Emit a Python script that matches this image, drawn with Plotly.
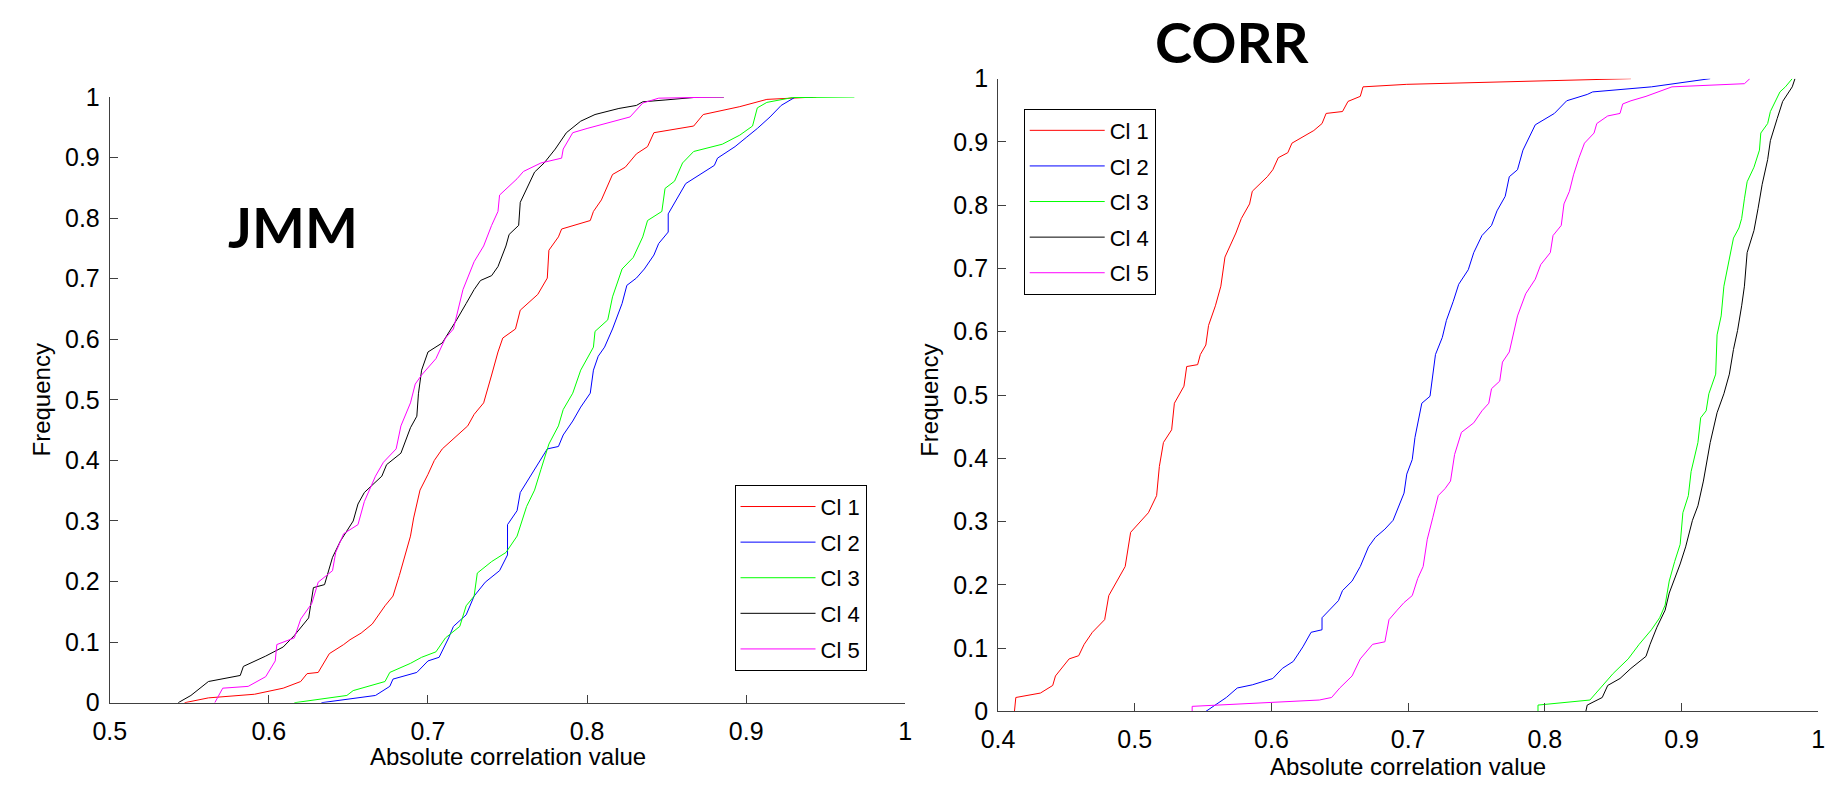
import plotly.graph_objects as go

# ---------------- data ----------------
series_names = ["Cl 1", "Cl 2", "Cl 3", "Cl 4", "Cl 5"]
series_colors = ["#ff0000", "#0000ff", "#00ff00", "#000000", "#ff00ff"]

# JMM panel
jmm_cl1_x = [0.547, 0.562, 0.591, 0.609, 0.620, 0.624, 0.631, 0.638, 0.647, 0.651, 0.658, 0.665, 0.673, 0.678, 0.682, 0.685, 0.689, 0.691, 0.695, 0.700, 0.704, 0.709, 0.716, 0.725, 0.729, 0.735, 0.740, 0.744, 0.747, 0.755, 0.758, 0.764, 0.769, 0.775, 0.776, 0.782, 0.784, 0.802, 0.804, 0.809, 0.813, 0.816, 0.824, 0.831, 0.838, 0.842, 0.867, 0.873, 0.896, 0.913, 0.944]
jmm_cl1_y = [0.000, 0.008, 0.014, 0.024, 0.035, 0.048, 0.050, 0.081, 0.096, 0.104, 0.115, 0.130, 0.160, 0.176, 0.210, 0.237, 0.275, 0.305, 0.351, 0.377, 0.400, 0.419, 0.435, 0.457, 0.476, 0.495, 0.541, 0.579, 0.602, 0.617, 0.648, 0.663, 0.674, 0.701, 0.747, 0.769, 0.782, 0.796, 0.811, 0.830, 0.853, 0.872, 0.884, 0.906, 0.918, 0.941, 0.952, 0.971, 0.984, 0.996, 1.000]

jmm_cl2_x = [0.633, 0.667, 0.676, 0.678, 0.693, 0.700, 0.707, 0.713, 0.716, 0.724, 0.729, 0.736, 0.745, 0.750, 0.750, 0.756, 0.758, 0.765, 0.771, 0.775, 0.782, 0.785, 0.791, 0.796, 0.802, 0.804, 0.807, 0.811, 0.816, 0.822, 0.825, 0.831, 0.836, 0.842, 0.845, 0.851, 0.851, 0.856, 0.862, 0.871, 0.880, 0.882, 0.893, 0.900, 0.907, 0.915, 0.922, 0.931, 0.942]
jmm_cl2_y = [0.000, 0.012, 0.027, 0.039, 0.050, 0.069, 0.075, 0.107, 0.126, 0.145, 0.176, 0.199, 0.218, 0.244, 0.294, 0.317, 0.347, 0.377, 0.404, 0.419, 0.423, 0.442, 0.465, 0.488, 0.511, 0.549, 0.572, 0.587, 0.617, 0.659, 0.689, 0.701, 0.716, 0.739, 0.758, 0.777, 0.807, 0.830, 0.857, 0.872, 0.887, 0.899, 0.918, 0.933, 0.948, 0.967, 0.986, 1.000, 1.000]

jmm_cl3_x = [0.616, 0.649, 0.653, 0.673, 0.676, 0.689, 0.696, 0.705, 0.711, 0.720, 0.724, 0.729, 0.731, 0.740, 0.749, 0.756, 0.762, 0.767, 0.771, 0.776, 0.782, 0.785, 0.791, 0.796, 0.804, 0.805, 0.813, 0.816, 0.822, 0.829, 0.835, 0.838, 0.847, 0.849, 0.855, 0.860, 0.867, 0.885, 0.896, 0.904, 0.907, 0.913, 0.929, 0.968]
jmm_cl3_y = [0.000, 0.012, 0.020, 0.035, 0.050, 0.065, 0.075, 0.084, 0.107, 0.126, 0.160, 0.176, 0.214, 0.233, 0.248, 0.275, 0.324, 0.351, 0.385, 0.427, 0.457, 0.484, 0.511, 0.549, 0.587, 0.613, 0.632, 0.670, 0.716, 0.735, 0.769, 0.796, 0.811, 0.849, 0.861, 0.891, 0.910, 0.922, 0.937, 0.952, 0.982, 0.991, 0.999, 1.000]

jmm_cl4_x = [0.543, 0.551, 0.562, 0.582, 0.584, 0.598, 0.609, 0.616, 0.625, 0.628, 0.635, 0.640, 0.645, 0.653, 0.656, 0.660, 0.671, 0.674, 0.683, 0.689, 0.693, 0.694, 0.696, 0.700, 0.709, 0.713, 0.718, 0.724, 0.729, 0.733, 0.740, 0.744, 0.749, 0.751, 0.757, 0.758, 0.764, 0.767, 0.773, 0.780, 0.787, 0.796, 0.805, 0.820, 0.831, 0.835, 0.849, 0.871, 0.886]
jmm_cl4_y = [0.000, 0.012, 0.035, 0.045, 0.060, 0.077, 0.092, 0.111, 0.140, 0.190, 0.195, 0.240, 0.267, 0.300, 0.328, 0.347, 0.374, 0.393, 0.412, 0.454, 0.473, 0.510, 0.549, 0.579, 0.594, 0.610, 0.632, 0.659, 0.682, 0.697, 0.705, 0.720, 0.754, 0.773, 0.788, 0.826, 0.861, 0.876, 0.891, 0.914, 0.941, 0.960, 0.971, 0.981, 0.986, 0.992, 0.995, 1.000, 1.000]

jmm_cl5_x = [0.566, 0.571, 0.587, 0.598, 0.604, 0.605, 0.616, 0.620, 0.627, 0.631, 0.640, 0.642, 0.647, 0.656, 0.660, 0.667, 0.672, 0.680, 0.683, 0.689, 0.692, 0.696, 0.705, 0.711, 0.716, 0.720, 0.722, 0.729, 0.735, 0.740, 0.744, 0.745, 0.751, 0.756, 0.760, 0.771, 0.784, 0.785, 0.791, 0.800, 0.827, 0.835, 0.845, 0.886]
jmm_cl5_y = [0.000, 0.024, 0.027, 0.043, 0.069, 0.096, 0.107, 0.138, 0.164, 0.199, 0.218, 0.248, 0.279, 0.294, 0.332, 0.374, 0.397, 0.419, 0.457, 0.495, 0.526, 0.541, 0.568, 0.602, 0.617, 0.659, 0.682, 0.728, 0.754, 0.788, 0.811, 0.838, 0.853, 0.865, 0.877, 0.891, 0.899, 0.914, 0.941, 0.948, 0.967, 0.990, 0.998, 1.000]

# CORR panel
corr_cl1_x = [0.412, 0.413, 0.431, 0.440, 0.442, 0.448, 0.452, 0.459, 0.463, 0.469, 0.478, 0.481, 0.486, 0.493, 0.497, 0.503, 0.510, 0.516, 0.518, 0.521, 0.527, 0.529, 0.536, 0.538, 0.546, 0.548, 0.552, 0.554, 0.559, 0.563, 0.566, 0.570, 0.574, 0.578, 0.584, 0.586, 0.597, 0.601, 0.605, 0.612, 0.615, 0.631, 0.637, 0.640, 0.652, 0.656, 0.665, 0.667, 0.699, 0.863]
corr_cl1_y = [0.000, 0.022, 0.029, 0.041, 0.056, 0.072, 0.083, 0.088, 0.106, 0.125, 0.145, 0.183, 0.202, 0.229, 0.283, 0.298, 0.314, 0.341, 0.387, 0.425, 0.445, 0.487, 0.514, 0.545, 0.548, 0.564, 0.579, 0.610, 0.641, 0.672, 0.718, 0.737, 0.756, 0.779, 0.802, 0.822, 0.845, 0.856, 0.875, 0.883, 0.898, 0.918, 0.929, 0.945, 0.948, 0.964, 0.972, 0.987, 0.991, 1.000]

corr_cl2_x = [0.552, 0.567, 0.575, 0.586, 0.601, 0.608, 0.616, 0.623, 0.629, 0.637, 0.637, 0.644, 0.649, 0.652, 0.659, 0.665, 0.671, 0.676, 0.683, 0.689, 0.693, 0.697, 0.699, 0.703, 0.705, 0.710, 0.716, 0.718, 0.720, 0.725, 0.728, 0.733, 0.737, 0.744, 0.748, 0.754, 0.761, 0.765, 0.771, 0.774, 0.780, 0.784, 0.790, 0.793, 0.807, 0.816, 0.831, 0.835, 0.878, 0.921]
corr_cl2_y = [0.000, 0.022, 0.037, 0.042, 0.052, 0.068, 0.079, 0.102, 0.125, 0.129, 0.148, 0.164, 0.175, 0.191, 0.206, 0.229, 0.260, 0.275, 0.288, 0.302, 0.325, 0.345, 0.375, 0.398, 0.433, 0.487, 0.498, 0.533, 0.564, 0.591, 0.618, 0.648, 0.675, 0.698, 0.725, 0.752, 0.768, 0.791, 0.814, 0.845, 0.856, 0.887, 0.914, 0.927, 0.945, 0.965, 0.975, 0.979, 0.987, 1.000]

corr_cl3_x = [0.795, 0.795, 0.833, 0.839, 0.850, 0.861, 0.869, 0.878, 0.884, 0.888, 0.891, 0.895, 0.899, 0.901, 0.905, 0.907, 0.912, 0.914, 0.918, 0.920, 0.925, 0.926, 0.929, 0.931, 0.934, 0.938, 0.942, 0.944, 0.946, 0.948, 0.953, 0.957, 0.958, 0.963, 0.965, 0.972, 0.976, 0.981]
corr_cl3_y = [0.000, 0.010, 0.018, 0.033, 0.060, 0.083, 0.106, 0.129, 0.148, 0.168, 0.206, 0.237, 0.264, 0.314, 0.341, 0.379, 0.425, 0.464, 0.475, 0.502, 0.533, 0.595, 0.625, 0.672, 0.706, 0.748, 0.764, 0.779, 0.810, 0.837, 0.860, 0.887, 0.914, 0.929, 0.948, 0.979, 0.987, 1.000]

corr_cl4_x = [0.830, 0.831, 0.842, 0.846, 0.855, 0.863, 0.874, 0.877, 0.882, 0.888, 0.891, 0.895, 0.899, 0.903, 0.908, 0.912, 0.916, 0.921, 0.926, 0.931, 0.935, 0.938, 0.941, 0.944, 0.946, 0.948, 0.953, 0.956, 0.959, 0.963, 0.965, 0.970, 0.974, 0.981, 0.983]
corr_cl4_y = [0.000, 0.010, 0.022, 0.041, 0.052, 0.068, 0.087, 0.106, 0.133, 0.160, 0.187, 0.210, 0.233, 0.260, 0.302, 0.325, 0.364, 0.425, 0.472, 0.502, 0.533, 0.572, 0.602, 0.641, 0.672, 0.725, 0.760, 0.795, 0.833, 0.872, 0.902, 0.937, 0.964, 0.987, 1.000]

corr_cl5_x = [0.542, 0.542, 0.635, 0.644, 0.650, 0.659, 0.665, 0.674, 0.683, 0.686, 0.692, 0.697, 0.703, 0.707, 0.711, 0.714, 0.718, 0.722, 0.727, 0.731, 0.734, 0.739, 0.748, 0.754, 0.759, 0.761, 0.767, 0.769, 0.774, 0.778, 0.780, 0.786, 0.793, 0.797, 0.804, 0.806, 0.812, 0.814, 0.818, 0.821, 0.825, 0.829, 0.836, 0.838, 0.846, 0.855, 0.857, 0.863, 0.874, 0.893, 0.946, 0.950]
corr_cl5_y = [0.000, 0.008, 0.018, 0.022, 0.037, 0.056, 0.083, 0.106, 0.110, 0.145, 0.160, 0.172, 0.183, 0.210, 0.229, 0.272, 0.306, 0.341, 0.352, 0.364, 0.406, 0.441, 0.456, 0.475, 0.487, 0.510, 0.522, 0.552, 0.568, 0.606, 0.625, 0.660, 0.683, 0.706, 0.725, 0.752, 0.768, 0.802, 0.822, 0.848, 0.875, 0.898, 0.914, 0.929, 0.941, 0.945, 0.960, 0.965, 0.972, 0.987, 0.992, 1.000]

jmm_x = [jmm_cl1_x, jmm_cl2_x, jmm_cl3_x, jmm_cl4_x, jmm_cl5_x]
jmm_y = [jmm_cl1_y, jmm_cl2_y, jmm_cl3_y, jmm_cl4_y, jmm_cl5_y]
corr_x = [corr_cl1_x, corr_cl2_x, corr_cl3_x, corr_cl4_x, corr_cl5_x]
corr_y = [corr_cl1_y, corr_cl2_y, corr_cl3_y, corr_cl4_y, corr_cl5_y]

jmm_xticks = [0.5, 0.6, 0.7, 0.8, 0.9, 1.0]
jmm_xticklabels = ["0.5", "0.6", "0.7", "0.8", "0.9", "1"]
corr_xticks = [0.4, 0.5, 0.6, 0.7, 0.8, 0.9, 1.0]
corr_xticklabels = ["0.4", "0.5", "0.6", "0.7", "0.8", "0.9", "1"]
yticks = [0, 0.1, 0.2, 0.3, 0.4, 0.5, 0.6, 0.7, 0.8, 0.9, 1.0]
yticklabels = ["0", "0.1", "0.2", "0.3", "0.4", "0.5", "0.6", "0.7", "0.8", "0.9", "1"]

# ---------------- figure ----------------
W, H = 1842, 791
fig = go.Figure()

for i in range(5):
    fig.add_trace(go.Scatter(x=jmm_x[i], y=jmm_y[i], mode="lines", name=series_names[i],
                             line=dict(color=series_colors[i], width=1),
                             legendgroup="a%d" % i,
                             xaxis="x", yaxis="y", legend="legend"))
for i in range(5):
    fig.add_trace(go.Scatter(x=corr_x[i], y=corr_y[i], mode="lines", name=series_names[i],
                             line=dict(color=series_colors[i], width=1),
                             legendgroup="b%d" % i,
                             xaxis="x2", yaxis="y2", legend="legend2"))

SANS = "Liberation Sans, Arial, sans-serif"
TICKFONT = dict(family=SANS, size=25, color="black")
axis_common = dict(showline=True, linecolor="#404040", linewidth=1, mirror=False,
                   showgrid=False, zeroline=False, ticks="inside", ticklen=8,
                   tickcolor="#404040", tickwidth=1, tickfont=TICKFONT, fixedrange=True)

def px_x(p):
    return p / W

def px_y(p):
    return 1 - p / H

legend_common = dict(xanchor="left", yanchor="top", bgcolor="white",
                     bordercolor="black", borderwidth=1,
                     font=dict(family=SANS, size=22, color="black"),
                     itemwidth=75, tracegroupgap=4)

fig.update_layout(
    width=W, height=H, autosize=False,
    margin=dict(l=0, r=0, t=0, b=0),
    paper_bgcolor="white", plot_bgcolor="white",
    xaxis=dict(domain=[px_x(94), px_x(900)], range=[0.5, 1.0], anchor="y",
               tickvals=jmm_xticks, ticktext=jmm_xticklabels, ticklabelstandoff=6, **axis_common),
    yaxis=dict(domain=[px_y(714), px_y(86)], range=[0, 1.0], anchor="x",
               tickvals=yticks, ticktext=yticklabels, ticklabelstandoff=4, **axis_common),
    xaxis2=dict(domain=[px_x(994), px_x(1825)], range=[0.4, 1.0], anchor="y2",
                tickvals=corr_xticks, ticktext=corr_xticklabels, ticklabelstandoff=6, **axis_common),
    yaxis2=dict(domain=[px_y(723), px_y(67)], range=[0, 1.0], anchor="x2",
                tickvals=yticks, ticktext=yticklabels, ticklabelstandoff=4, **axis_common),
    legend=dict(x=px_x(727), y=px_y(488), **legend_common),
    legend2=dict(x=px_x(1020), y=px_y(98), **legend_common),
    showlegend=True,
)

LABELFONT = dict(family=SANS, size=24, color="black")
TITLEFONT = dict(family="Comic Sans MS, Lato, sans-serif", size=56, color="black", weight="bold")

annotations = [
    dict(text="Absolute correlation value", x=px_x(497), y=px_y(770), xref="paper", yref="paper",
         showarrow=False, font=LABELFONT, xanchor="center", yanchor="middle"),
    dict(text="Absolute correlation value", x=px_x(1409), y=px_y(780), xref="paper", yref="paper",
         showarrow=False, font=LABELFONT, xanchor="center", yanchor="middle"),
    dict(text="Frequency", x=px_x(25), y=px_y(400), xref="paper", yref="paper",
         showarrow=False, font=LABELFONT, textangle=-90, xanchor="center", yanchor="middle"),
    dict(text="Frequency", x=px_x(925), y=px_y(400), xref="paper", yref="paper",
         showarrow=False, font=LABELFONT, textangle=-90, xanchor="center", yanchor="middle"),
    dict(text="JMM", x=px_x(280), y=px_y(220), xref="paper", yref="paper",
         showarrow=False, font=TITLEFONT, xanchor="center", yanchor="middle"),
    dict(text="CORR", x=px_x(1231), y=px_y(28), xref="paper", yref="paper",
         showarrow=False, font=TITLEFONT, xanchor="center", yanchor="middle"),
]
fig.update_layout(annotations=annotations)

fig.write_html("out.html", config={"displayModeBar": False},
               post_script="document.body.style.margin='0';document.body.style.overflow='hidden';")
